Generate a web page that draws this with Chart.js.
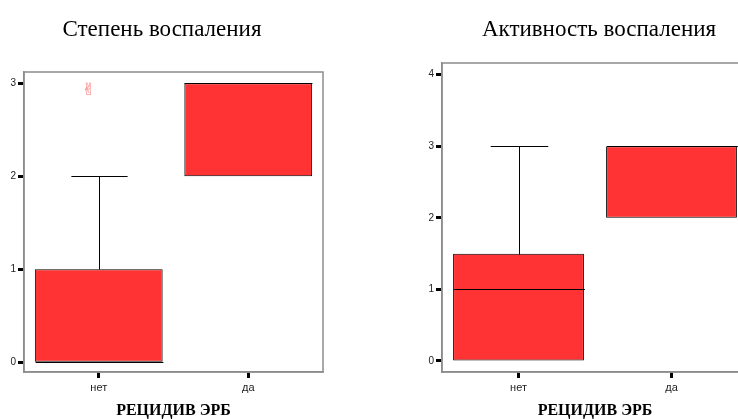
<!DOCTYPE html>
<html>
<head>
<meta charset="utf-8">
<script src="https://cdn.jsdelivr.net/npm/chart.js@4/dist/chart.umd.min.js"></script>
<style>
  html, body { margin: 0; padding: 0; background: #fff; overflow: hidden; width: 738px; height: 419px; position: relative; }
  #degree { position: absolute; left: 0; top: 0; }
  #activity { position: absolute; left: 380px; top: 0; }
</style>
</head>
<body>
<canvas id="degree" width="369" height="419"></canvas>
<canvas id="activity" width="380" height="419"></canvas>
<script>
// Groups on the x axis
const categories = ['нет', 'да'];

// Степень воспаления: box-plot statistics per group
const degreeQ1 = [0, 2];
const degreeQ3 = [1, 3];
const degreeMedian = [0, 3];
const degreeMin = [0, 2];
const degreeMax = [2, 3];
const degreeExtremes = [[3], []];
const degreeTicks = [0, 1, 2, 3];

// Активность воспаления: box-plot statistics per group
const activityQ1 = [0, 2];
const activityQ3 = [1.5, 3];
const activityMedian = [1, 3];
const activityMin = [0, 2];
const activityMax = [3, 3];
const activityExtremes = [[], []];
const activityTicks = [0, 1, 2, 3, 4];

const axisTitle = 'РЕЦИДИВ ЭРБ';

// Median line, whiskers with caps and extreme-value markers on top of the boxes
const boxExtras = {
  id: 'boxExtras',
  afterDatasetsDraw(chart, args, opts) {
    const ctx = chart.ctx;
    const y = chart.scales.y;
    const meta = chart.getDatasetMeta(0);
    const s = opts.stats;
    ctx.save();
    ctx.strokeStyle = '#000';
    ctx.lineWidth = 1;
    meta.data.forEach((bar, i) => {
      const cx = Math.round(bar.x) + 0.5;
      const half = bar.width / 2;
      const capHalf = bar.width * 0.22;
      const py = v => Math.round(y.getPixelForValue(v)) + 0.5;
      // median
      ctx.beginPath();
      ctx.moveTo(cx - half, py(s.median[i]));
      ctx.lineTo(cx + half, py(s.median[i]));
      ctx.stroke();
      // upper whisker
      if (s.max[i] > s.q3[i]) {
        ctx.beginPath();
        ctx.moveTo(cx, py(s.q3[i]));
        ctx.lineTo(cx, py(s.max[i]));
        ctx.moveTo(cx - capHalf, py(s.max[i]));
        ctx.lineTo(cx + capHalf, py(s.max[i]));
        ctx.stroke();
      }
      // lower whisker
      if (s.min[i] < s.q1[i]) {
        ctx.beginPath();
        ctx.moveTo(cx, py(s.q1[i]));
        ctx.lineTo(cx, py(s.min[i]));
        ctx.moveTo(cx - capHalf, py(s.min[i]));
        ctx.lineTo(cx + capHalf, py(s.min[i]));
        ctx.stroke();
      }
      // extreme values
      s.extremes[i].forEach(v => {
        ctx.fillStyle = '#ff6f6f';
        ctx.font = '17px "DejaVu Sans"';
        ctx.textAlign = 'center';
        ctx.textBaseline = 'middle';
        ctx.fillText('\u270C', bar.x - 10, y.getPixelForValue(v) + 7);
      });
    });
    ctx.restore();
  },
  afterDraw(chart) {
    // gray frame around the plot area
    const a = chart.chartArea;
    const ctx = chart.ctx;
    ctx.save();
    ctx.strokeStyle = '#8c8c8c';
    ctx.lineWidth = 1.5;
    ctx.strokeRect(a.left, a.top, a.right - a.left, a.bottom - a.top);
    ctx.restore();
  }
};

// Panel heading
const panelTitle = {
  id: 'panelTitle',
  afterDraw(chart, args, opts) {
    const ctx = chart.ctx;
    ctx.save();
    ctx.fillStyle = '#000';
    ctx.font = '23px "Liberation Serif"';
    ctx.textAlign = 'center';
    ctx.textBaseline = 'alphabetic';
    ctx.fillText(opts.text, opts.x, opts.baseline);
    ctx.restore();
  }
};

function makeBoxChart(id, cfg) {
  const s = cfg.stats;
  return new Chart(document.getElementById(id), {
    type: 'bar',
    data: {
      labels: categories,
      datasets: [{
        data: s.q1.map((v, i) => [v, s.q3[i]]),
        backgroundColor: '#ff3333',
        borderColor: '#000',
        borderWidth: 1,
        borderSkipped: false,
        barPercentage: 0.855,
        categoryPercentage: 1
      }]
    },
    options: {
      responsive: false,
      animation: false,
      devicePixelRatio: 1,
      layout: { padding: { top: cfg.padTop, right: cfg.padRight, left: 0, bottom: 0 } },
      plugins: {
        legend: { display: false },
        tooltip: { enabled: false },
        title: { display: false },
        boxExtras: { stats: s },
        panelTitle: { text: cfg.title, x: cfg.titleX, baseline: 36 }
      },
      scales: {
        x: {
          type: 'category',
          offset: true,
          grid: { display: true, drawOnChartArea: false, offset: false, drawTicks: true, tickLength: 6, tickWidth: 3, tickColor: '#000' },
          border: { display: true, color: '#8c8c8c', width: 1.5 },
          ticks: { color: '#222', font: { family: '"Liberation Sans"', size: 11 }, padding: 3 },
          title: { display: true, text: axisTitle, color: '#000', font: { family: '"Liberation Serif"', size: 16, weight: 'bold', lineHeight: 1 }, padding: 0 },
          afterFit: sc => { sc.height = 47; }
        },
        y: {
          min: cfg.yMin,
          max: cfg.yMax,
          grid: { display: true, drawOnChartArea: false, drawTicks: true, tickLength: 6, tickWidth: 3, tickColor: '#000' },
          border: { display: true, color: '#8c8c8c', width: 1.5 },
          ticks: { color: '#222', font: { family: '"Liberation Sans"', size: 10 }, padding: 2, includeBounds: false },
          afterBuildTicks: sc => { sc.ticks = cfg.ticks.map(v => ({ value: v })); },
          afterFit: sc => { sc.width = cfg.yWidth; }
        }
      }
    },
    plugins: [boxExtras, panelTitle]
  });
}

makeBoxChart('degree', {
  stats: { q1: degreeQ1, q3: degreeQ3, median: degreeMedian, min: degreeMin, max: degreeMax, extremes: degreeExtremes },
  ticks: degreeTicks,
  yMin: -0.104, yMax: 3.12,
  padTop: 72, padRight: 46, yWidth: 24,
  title: 'Степень воспаления', titleX: 162
});

makeBoxChart('activity', {
  stats: { q1: activityQ1, q3: activityQ3, median: activityMedian, min: activityMin, max: activityMax, extremes: activityExtremes },
  ticks: activityTicks,
  yMin: -0.154, yMax: 4.164,
  padTop: 63, padRight: 12, yWidth: 62,
  title: 'Активность воспаления', titleX: 219
});
</script>
</body>
</html>
